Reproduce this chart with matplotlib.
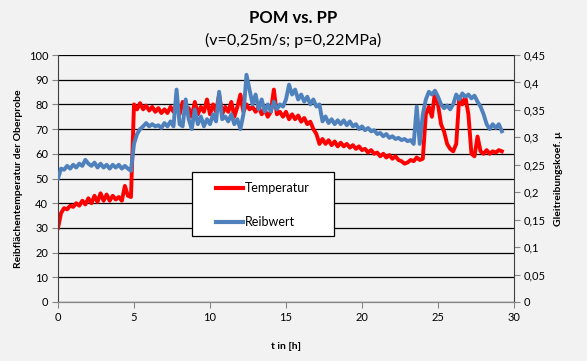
import numpy as np
import matplotlib
matplotlib.use("Agg")
import matplotlib.pyplot as plt
from matplotlib.patches import Rectangle

plt.rcParams['font.family'] = ['Lato', 'DejaVu Sans']

temperatur = [
    30, 36, 38, 37.5, 39, 38.5, 40, 39, 41, 39.5,
    42, 40, 43, 40.5, 44, 41, 43.5, 41, 43, 41.5,
    42.5, 41, 47, 43, 42.5, 80, 78, 80.5, 78, 79.5,
    77.5, 79, 77, 78.5, 76.5, 78, 76.5, 79, 77, 80,
    76, 81, 77, 78.5, 75, 81, 76, 79, 77, 82,
    76, 80, 77, 84, 76, 79, 77, 81, 75, 79,
    84, 77, 80, 78, 79, 77, 79, 76, 78, 75,
    77, 86, 76, 77, 75, 77, 74, 76, 74, 75.5,
    73, 74.5, 72, 73, 70, 68, 64, 66, 64, 65.5,
    63.5, 65, 63, 64.5, 63, 64, 62.5, 63.5, 62, 63,
    61.5, 62, 60.5, 61.5, 60, 60.5, 59, 60, 58.5, 59.5,
    58, 59, 57.5, 57, 56, 56.5, 57.5, 57, 58.5, 57.5,
    58, 76, 79, 75, 85, 80, 72, 69, 64, 62,
    61, 64, 83, 80, 83, 76, 60, 59, 67, 61,
    60, 61.5, 60, 61, 60.5, 61.5, 61,
]
reibwert = [
    0.225, 0.243, 0.241, 0.248, 0.243, 0.250, 0.245, 0.252, 0.248, 0.259,
    0.252, 0.248, 0.254, 0.245, 0.252, 0.245, 0.250, 0.243, 0.250, 0.245,
    0.250, 0.243, 0.248, 0.243, 0.239, 0.288, 0.306, 0.315, 0.320, 0.326,
    0.320, 0.324, 0.320, 0.322, 0.317, 0.326, 0.320, 0.329, 0.320, 0.387,
    0.324, 0.320, 0.369, 0.333, 0.315, 0.351, 0.324, 0.338, 0.320, 0.333,
    0.324, 0.342, 0.329, 0.383, 0.333, 0.338, 0.329, 0.342, 0.324, 0.333,
    0.315, 0.342, 0.414, 0.387, 0.360, 0.378, 0.351, 0.369, 0.347, 0.360,
    0.347, 0.365, 0.351, 0.360, 0.356, 0.369, 0.396, 0.378, 0.387, 0.369,
    0.378, 0.365, 0.374, 0.360, 0.369, 0.356, 0.360, 0.329, 0.338, 0.326,
    0.333, 0.324, 0.331, 0.324, 0.331, 0.322, 0.329, 0.320, 0.324, 0.315,
    0.320, 0.313, 0.317, 0.311, 0.313, 0.306, 0.308, 0.302, 0.306, 0.299,
    0.302, 0.297, 0.299, 0.295, 0.297, 0.293, 0.295, 0.288, 0.356, 0.288,
    0.342, 0.369, 0.383, 0.378, 0.385, 0.374, 0.360, 0.353, 0.358, 0.351,
    0.360, 0.378, 0.369, 0.380, 0.374, 0.378, 0.371, 0.376, 0.365, 0.356,
    0.342, 0.324, 0.315, 0.324, 0.317, 0.324, 0.311,
]
zeit = np.round(np.arange(len(temperatur)) * 0.2, 1)

bg = "#f2f2f2"
fig = plt.figure(figsize=(5.87, 3.61), dpi=100, facecolor=bg)
ax = fig.add_axes([58 / 587, 1 - 302 / 361, 456 / 587, 247 / 361], facecolor=bg)
ax2 = ax.twinx()

l1, = ax.plot(zeit, temperatur, color="#ff0000", lw=2.8, label="Temperatur")
l2, = ax2.plot(zeit, reibwert, color="#4f81bd", lw=2.8, label="Reibwert")

ax.set_xlim(0, 30)
ax.set_ylim(0, 100)
ax2.set_ylim(0, 0.45)
ax.set_xticks(range(0, 31, 5))
ax.set_yticks(range(0, 101, 10))
ax2.set_yticks(np.arange(0, 0.451, 0.05))
ax2.set_yticklabels(["0"] + [("%.2f" % v).rstrip("0").replace(".", ",") for v in np.arange(0.05, 0.451, 0.05)])

ax.grid(axis="y", color="black", lw=0.9)
ax.set_axisbelow(True)
for a in (ax, ax2):
    a.spines["top"].set_visible(False)
    for s in ("left", "right", "bottom"):
        a.spines[s].set_color("#868686")
    a.tick_params(direction="out", length=4, color="#868686", labelsize=8, pad=3)
ax2.spines["left"].set_visible(False)
ax.spines["right"].set_visible(False)
ax.spines["left"].set_color("#404040")
ax2.spines["right"].set_color("#404040")

ax.set_xlabel("t in [h]", fontsize=7.5, fontweight="bold", labelpad=14)
ax.set_ylabel("Reibflächentemperatur der Oberprobe", fontsize=7.5, fontweight="bold", labelpad=4)
ax2.set_ylabel("Gleitreibungskoef. μ", fontsize=7.5, fontweight="bold", labelpad=6)

fig.text(0.5, 1 - 18 / 361, "POM vs. PP", ha="center", va="center", fontsize=12, fontweight="bold")
fig.text(0.5, 1 - 40 / 361, "(v=0,25m/s; p=0,22MPa)", ha="center", va="center", fontsize=11.5)

# legend box drawn separately (Excel-style fixed size frame)
box = Rectangle((0.294, 0.267), 0.311, 0.259, transform=ax2.transAxes,
                facecolor="white", edgecolor="black", lw=0.9, zorder=4)
ax2.add_patch(box)
leg = ax2.legend([l1, l2], ["Temperatur", "Reibwert"], loc="center left",
                 bbox_to_anchor=(0.3465, 0.392), frameon=False,
                 borderaxespad=0, borderpad=0, fontsize=9, labelspacing=1.75,
                 handlelength=2.15, handletextpad=0.15)
for h in leg.get_lines():
    h.set_linewidth(3)

fig.savefig("out.png", dpi=100, facecolor=bg)
